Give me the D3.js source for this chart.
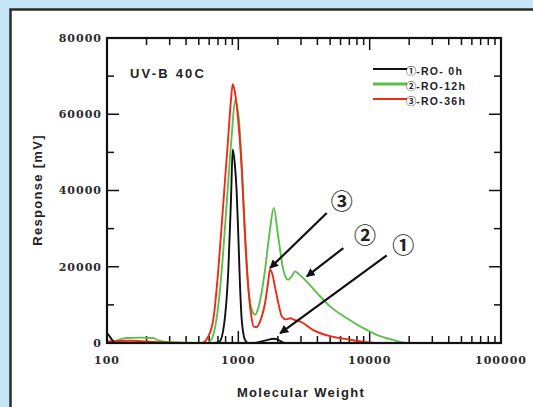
<!DOCTYPE html>
<html>
<head>
<meta charset="utf-8">
<title>UV-B 40C</title>
<script src="https://cdnjs.cloudflare.com/ajax/libs/d3/7.8.5/d3.min.js"></script>
<style>
  body { margin: 0; background: #c6e6f6; }
  svg { display: block; }
</style>
</head>
<body>
<script>
// molecular weight / response [mV]
var mw0 = [100, 104, 109, 115, 300, 650, 720, 780, 839, 880, 906, 940, 970, 1000, 1030, 1062, 1125, 1190, 1300, 1500, 1700, 1850, 2000, 2150, 2300, 100000];
var resp0 = [2600, 1900, 900, 0, 0, 0, 400, 5000, 19200, 38000, 50800, 47000, 40000, 28000, 15000, 6000, 800, 0, 0, 400, 900, 1100, 900, 300, 0, 0];

var mw12 = [100, 115, 130, 142, 180, 224, 250, 300, 500, 580, 630, 680, 748, 816, 890, 944, 1000, 1050, 1092, 1160, 1230, 1290, 1340, 1400, 1500, 1597, 1740, 1860, 2010, 2200, 2390, 2550, 2700, 2900, 3320, 4000, 4990, 6700, 8960, 12000, 15150, 17000, 19000, 100000];
var resp12 = [300, 500, 1100, 1300, 1400, 1300, 600, 200, 0, 0, 1200, 6000, 19200, 36800, 54300, 63500, 60000, 50000, 36800, 19200, 10500, 8000, 7400, 8500, 13000, 19200, 29700, 35400, 28000, 19200, 16600, 17500, 18800, 18000, 16100, 13000, 9600, 6500, 3900, 1800, 800, 300, 0, 0];

var mw36 = [100, 150, 200, 300, 500, 527, 590, 650, 704, 769, 839, 880, 906, 940, 1000, 1062, 1127, 1190, 1250, 1310, 1380, 1460, 1597, 1680, 1740, 1800, 1900, 2030, 2150, 2300, 2480, 2700, 2970, 3720, 4990, 6700, 8960, 11000, 100000];
var resp36 = [400, 600, 400, 100, 0, 0, 1700, 7000, 19200, 36800, 54300, 64000, 67900, 66000, 58000, 45500, 28000, 14800, 7500, 4300, 4200, 5600, 10500, 15500, 19200, 18500, 14800, 10000, 6900, 6200, 6500, 6000, 5600, 3400, 1800, 1000, 300, 0, 0];

var seriesMarks = ['①', '②', '③'];
var seriesNames = ['-RO- 0h', '-RO-12h', '-RO-36h'];
var seriesColors = ['#111111', '#5cbf4c', '#ee2a1a'];

var xTickLabels = [100, 1000, 10000, 100000];
var yTickLabels = [0, 20000, 40000, 60000, 80000];

// callouts: label, label pos, arrow start, arrow tip (in MW / mV)
var annoLabels = ['③', '②', '①'];
var annoLabelAt = [[6120, 37200], [9230, 28400], [18060, 25800]];
var annoFrom = [[4712, 34100], [6300, 24900], [13490, 23000]];
var annoTo = [[1743, 19650], [3320, 17450], [2080, 2550]];

var W = 533, H = 407;
var margin = {left: 107, right: 32, top: 38, bottom: 64};

var svg = d3.select('body').append('svg')
  .attr('width', W).attr('height', H);

svg.append('rect')
  .attr('x', 10.5).attr('y', 9.5)
  .attr('width', 560).attr('height', 440)
  .attr('fill', '#fff')
  .attr('stroke', '#2b2b2b').attr('stroke-width', 2.5);

var x = d3.scaleLog().domain([100, 100000]).range([margin.left, W - margin.right]);
var y = d3.scaleLinear().domain([0, 80000]).range([H - margin.bottom, margin.top]);

var g = svg.append('g');

// minor / major ticks, all pointing inward on the four sides
var xTicks = [];
[100, 1000, 10000].forEach(function(d) {
  for (var k = 1; k < 10; k++) xTicks.push({v: d * k, major: k === 1});
});
var yTicks = d3.range(0, 80001, 10000).map(function(v) {
  return {v: v, major: v % 20000 === 0};
});

var x0 = x.range()[0], x1 = x.range()[1];
var y0 = y.range()[0], y1 = y.range()[1];

g.selectAll('.xb').data(xTicks).enter().append('line')
  .attr('x1', function(d) { return x(d.v); }).attr('x2', function(d) { return x(d.v); })
  .attr('y1', y0).attr('y2', function(d) { return y0 - (d.major ? 12 : 7); })
  .attr('stroke', '#111').attr('stroke-width', 1.5);
g.selectAll('.xt').data(xTicks).enter().append('line')
  .attr('x1', function(d) { return x(d.v); }).attr('x2', function(d) { return x(d.v); })
  .attr('y1', y1).attr('y2', function(d) { return y1 + (d.major ? 12 : 7); })
  .attr('stroke', '#111').attr('stroke-width', 1.5);
g.selectAll('.yl').data(yTicks).enter().append('line')
  .attr('y1', function(d) { return y(d.v); }).attr('y2', function(d) { return y(d.v); })
  .attr('x1', x0).attr('x2', function(d) { return x0 + (d.major ? 12 : 7); })
  .attr('stroke', '#111').attr('stroke-width', 1.5);
g.selectAll('.yr').data(yTicks).enter().append('line')
  .attr('y1', function(d) { return y(d.v); }).attr('y2', function(d) { return y(d.v); })
  .attr('x1', x1).attr('x2', function(d) { return x1 - (d.major ? 12 : 7); })
  .attr('stroke', '#111').attr('stroke-width', 1.5);

// tick labels
g.selectAll('.xlab').data(xTickLabels).enter().append('text')
  .attr('x', function(d) { return x(d); }).attr('y', y0 + 21)
  .attr('text-anchor', 'middle')
  .style('font', 'bold 11px "DejaVu Serif"').style('letter-spacing', '1px')
  .attr('fill', '#2a2a2a')
  .text(function(d) { return d; });
g.selectAll('.ylab').data(yTickLabels).enter().append('text')
  .attr('x', x0 - 5).attr('y', function(d) { return y(d); }).attr('dy', '0.36em')
  .attr('text-anchor', 'end')
  .style('font', 'bold 11px "DejaVu Serif"').style('letter-spacing', '1px')
  .attr('fill', '#2a2a2a')
  .text(function(d) { return d; });

// series lines
var line = d3.line()
  .x(function(d) { return x(d[0]); })
  .y(function(d) { return y(d[1]); })
  .curve(d3.curveMonotoneX);

var series = [d3.zip(mw0, resp0), d3.zip(mw12, resp12), d3.zip(mw36, resp36)];
[1, 2, 0].forEach(function(i) {
  g.append('path')
    .datum(series[i])
    .attr('d', line)
    .attr('fill', 'none')
    .attr('stroke', seriesColors[i])
    .attr('stroke-width', 1.9)
    .attr('stroke-linejoin', 'round');
});

// frame
g.append('rect')
  .attr('x', x0).attr('y', y1)
  .attr('width', x1 - x0).attr('height', y0 - y1)
  .attr('fill', 'none').attr('stroke', '#111').attr('stroke-width', 2.2);

// legend
var leg = g.selectAll('.leg').data(seriesNames).enter().append('g')
  .attr('transform', function(d, i) { return 'translate(373,' + (69 + i * 15) + ')'; });
leg.append('line')
  .attr('x1', 0).attr('x2', 34).attr('y1', 0).attr('y2', 0)
  .attr('stroke', function(d, i) { return seriesColors[i]; })
  .attr('stroke-width', function(d, i) { return i === 1 ? 3 : 1.8; });
var lt = leg.append('text')
  .attr('x', 33).attr('y', 0).attr('dy', '0.36em')
  .attr('fill', '#222');
lt.append('tspan')
  .style('font', 'bold 10.2px "Noto Sans CJK JP"')
  .text(function(d, i) { return seriesMarks[i]; });
lt.append('tspan')
  .style('font', 'bold 10.5px "Liberation Sans", Arial')
  .style('letter-spacing', '1.3px')
  .text(function(d) { return d; });

// title inside plot
g.append('text')
  .attr('x', 130).attr('y', 78)
  .style('font', 'bold 13px "Liberation Sans", Arial')
  .style('letter-spacing', '2.2px')
  .attr('fill', '#222')
  .text('UV-B 40C');

// callout arrows
svg.append('defs').append('marker')
  .attr('id', 'ah').attr('viewBox', '0 0 10 10')
  .attr('refX', 9).attr('refY', 5)
  .attr('markerWidth', 4).attr('markerHeight', 4)
  .attr('orient', 'auto')
  .append('path').attr('d', 'M0,0L10,5L0,10Z').attr('fill', '#111');

annoLabels.forEach(function(lab, i) {
  g.append('line')
    .attr('x1', x(annoFrom[i][0])).attr('y1', y(annoFrom[i][1]))
    .attr('x2', x(annoTo[i][0])).attr('y2', y(annoTo[i][1]))
    .attr('stroke', '#111').attr('stroke-width', 2.2)
    .attr('marker-end', 'url(#ah)');
  g.append('text')
    .attr('x', x(annoLabelAt[i][0])).attr('y', y(annoLabelAt[i][1]))
    .attr('dy', '0.36em').attr('text-anchor', 'middle')
    .style('font', 'bold 22px "Noto Sans CJK JP"')
    .attr('fill', '#222')
    .text(lab);
});

// axis titles
svg.append('text')
  .attr('x', 301).attr('y', 397)
  .attr('text-anchor', 'middle')
  .style('font', 'bold 13px "Liberation Sans", Arial')
  .style('letter-spacing', '1.3px')
  .attr('fill', '#222')
  .text('Molecular Weight');
svg.append('text')
  .attr('transform', 'translate(42,190) rotate(-90)')
  .attr('text-anchor', 'middle')
  .style('font', 'bold 13px "Liberation Sans", Arial')
  .style('letter-spacing', '1.3px')
  .attr('fill', '#222')
  .text('Response [mV]');
</script>
</body>
</html>
